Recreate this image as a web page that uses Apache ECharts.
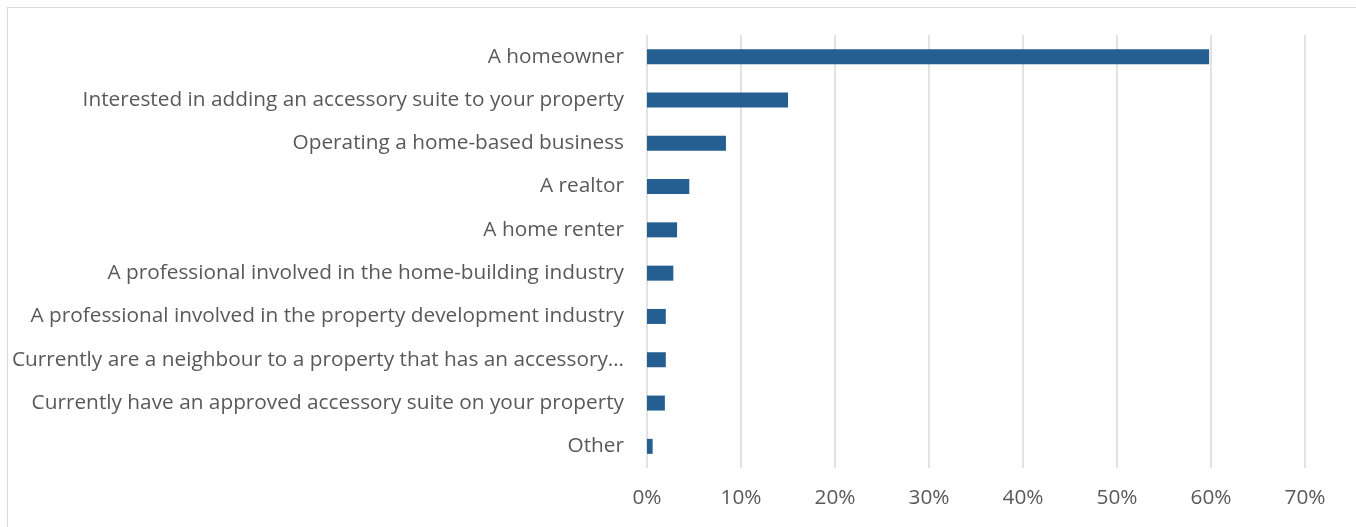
<!DOCTYPE html>
<html>
<head>
<meta charset="utf-8">
<script src="https://cdn.jsdelivr.net/npm/echarts@6/dist/echarts.min.js"></script>
<style>
  html, body { margin: 0; padding: 0; background: #fff; }
  #frame { position: absolute; left: 7px; top: 7px; width: 1360px; height: 540px; border: 1px solid #d9d9d9; box-sizing: border-box; }
  #chart { position: absolute; left: 0; top: 0; width: 1356px; height: 527px; }
</style>
</head>
<body>
<div id="frame"></div>
<div id="chart"></div>
<script>
// Survey respondents by role (share of responses)
const categories = [
  'A homeowner',
  'Interested in adding an accessory suite to your property',
  'Operating a home-based business',
  'A realtor',
  'A home renter',
  'A professional involved in the home-building industry',
  'A professional involved in the property development industry',
  'Currently are a neighbour to a property that has an accessory…',
  'Currently have an approved accessory suite on your property',
  'Other'
];
const shares = [59.8, 15.0, 8.4, 4.5, 3.2, 2.8, 2.0, 2.0, 1.9, 0.6];
const tickValues = [0, 10, 20, 30, 40, 50, 60, 70];

const chart = echarts.init(document.getElementById('chart'), null, { renderer: 'canvas' });
chart.setOption({
  animation: false,
  grid: { left: 647, right: 51, top: 35, bottom: 59, containLabel: false },
  xAxis: {
    type: 'value',
    min: tickValues[0],
    max: tickValues[tickValues.length - 1],
    interval: 10,
    axisLine: { show: false },
    axisTick: { show: false },
    splitLine: { show: true, lineStyle: { color: '#d9d9d9', width: 1.5 } },
    axisLabel: {
      formatter: v => v + '%',
      color: '#595959',
      fontFamily: 'Open Sans',
      fontSize: 20.8,
      margin: 20
    }
  },
  yAxis: {
    type: 'category',
    inverse: true,
    data: categories,
    axisLine: { show: false },
    axisTick: { show: false },
    axisLabel: {
      color: '#595959',
      fontFamily: 'Open Sans',
      fontSize: 20.8,
      margin: 23
    }
  },
  series: [{
    type: 'bar',
    data: shares,
    barWidth: 15,
    itemStyle: { color: '#255e91' }
  }]
});
</script>
</body>
</html>
